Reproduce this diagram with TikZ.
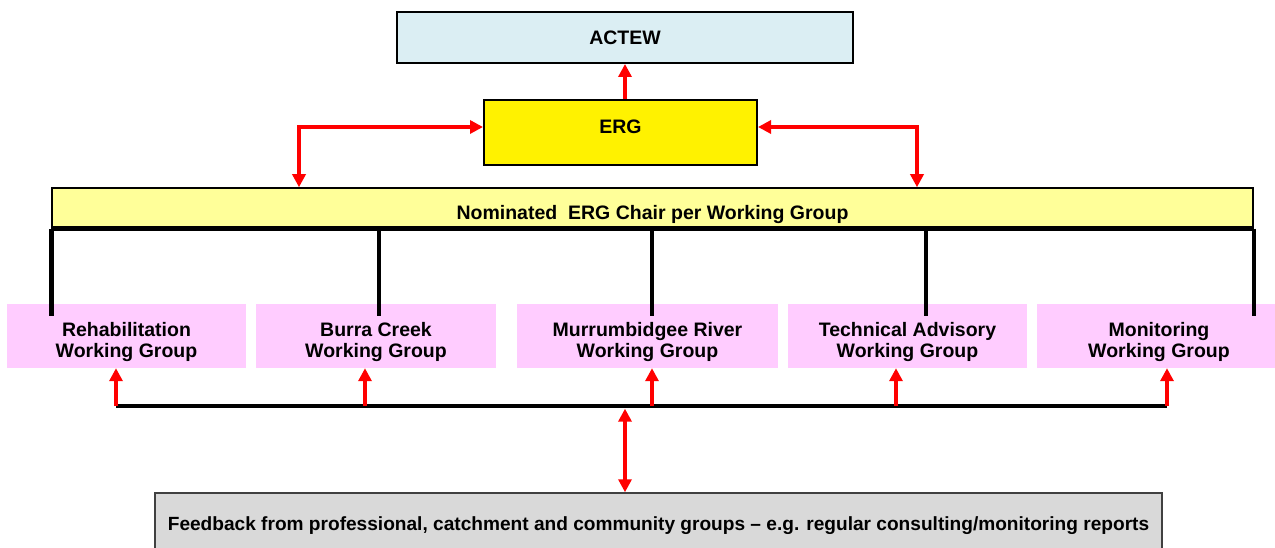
\documentclass[tikz,border=0pt]{standalone}
\usepackage{fontspec}
\setmainfont{Liberation Sans}
\usetikzlibrary{arrows.meta, calc, positioning}
\definecolor{actewblue}{RGB}{219,238,243}
\definecolor{chairyellow}{RGB}{255,255,153}
\definecolor{grouppink}{RGB}{255,204,255}
\definecolor{feedgray}{RGB}{217,217,217}

\begin{document}
\begin{tikzpicture}[x=1pt, y=-1pt,
    labelfont/.style={font=\fontsize{19.5}{21.5}\selectfont\bfseries},
    box/.style={draw, line width=2pt, align=center, inner sep=0pt, text depth=0pt, labelfont},
    wgroup/.style={fill=grouppink, minimum width=240pt, minimum height=64pt, align=center, inner sep=0pt,
        text height=43.5pt, text depth=0pt, labelfont},
    redarrow/.style={draw=red, line width=4.5pt, -{Triangle[length=13pt,width=13pt]}},
    dblarrow/.style={draw=red, line width=4.5pt, {Triangle[length=13pt,width=13pt]}-{Triangle[length=13pt,width=13pt]}},
    treeline/.style={draw=black, line width=4.5pt}]
    \useasboundingbox (0,0) rectangle (1275,548);

    % ACTEW and ERG
    \node[box, fill=actewblue, minimum width=456pt, minimum height=51pt, text height=14pt] (actew) at (625,37.5) {ACTEW};
    \node[box, fill=yellow, minimum width=273pt, minimum height=65pt, text height=2.4pt] (erg) at (620.5,132.5) {ERG};

    % Chair bar
    \node[box, line width=1.5pt, fill=chairyellow, minimum width=1201pt, minimum height=40pt, text height=23pt] (chair) at (652.5,208) {Nominated\ \ ERG Chair per Working Group};

    % Working groups
    \node[wgroup, minimum width=239pt] (rehab) at (126.5,336) {Rehabilitation\\Working Group};
    \node[wgroup] (burra) at (376,336) {Burra Creek\\Working Group};
    \node[wgroup, minimum width=261pt] (murrum) at (647.5,336) {Murrumbidgee River\\Working Group};
    \node[wgroup, minimum width=239pt] (tech) at (907.5,336) {Technical Advisory\\Working Group};
    \node[wgroup, minimum width=244pt] (monitor) at (1159,336) {Monitoring\\Working Group};

    % Feedback
    \node[box, draw=black!75, line width=1.5pt, fill=feedgray, minimum width=1007pt, minimum height=64pt, text height=11pt,
        font=\fontsize{19.1}{21.5}\selectfont\bfseries] (feedback) at (658.5,525) {Feedback from professional, catchment and community groups -- e.g. regular consulting/monitoring reports};

    % Arrows between ERG, ACTEW and chair
    \draw[redarrow] (actew.south |- erg.north) -- (actew.south);
    \draw[dblarrow] ([yshift=5.5pt]erg.west) -| ([xshift=-353.5pt]chair.north);
    \draw[dblarrow] ([yshift=5.5pt]erg.east) -| ([xshift=264.5pt]chair.north);

    % Tree from chair to groups
    \coordinate (grouptop) at ([yshift=-12pt]rehab.north);
    \draw[treeline] (chair.south west) -- (chair.south east);
    \draw[treeline] (chair.south west) -- (chair.south west |- grouptop);
    \draw[treeline] (chair.south east) -- (chair.south east |- grouptop);
    \foreach \g/\dx in {burra/3, murrum/4.5, tech/18.5} {
        \coordinate (\g-top) at ([xshift=\dx pt]\g.north);
        \draw[treeline] (chair.south -| \g-top) -- (grouptop -| \g-top);
    }

    % Bus from groups to feedback
    \coordinate (bus) at ([yshift=-38pt]rehab.south);
    \foreach \g/\dx in {rehab/-10.5, burra/-11, murrum/4.5, tech/-11.5, monitor/8} {
        \coordinate (\g-in) at ([xshift=\dx pt]\g.south);
    }
    \draw[treeline] (bus -| rehab-in) -- (bus -| monitor-in);
    \foreach \g in {rehab, burra, murrum, tech, monitor} {
        \draw[redarrow] (bus -| \g-in) -- (\g-in);
    }
    \draw[dblarrow] ([yshift=-2.5pt]bus -| actew.south) -- (feedback.north -| actew.south);
\end{tikzpicture}
\end{document}
